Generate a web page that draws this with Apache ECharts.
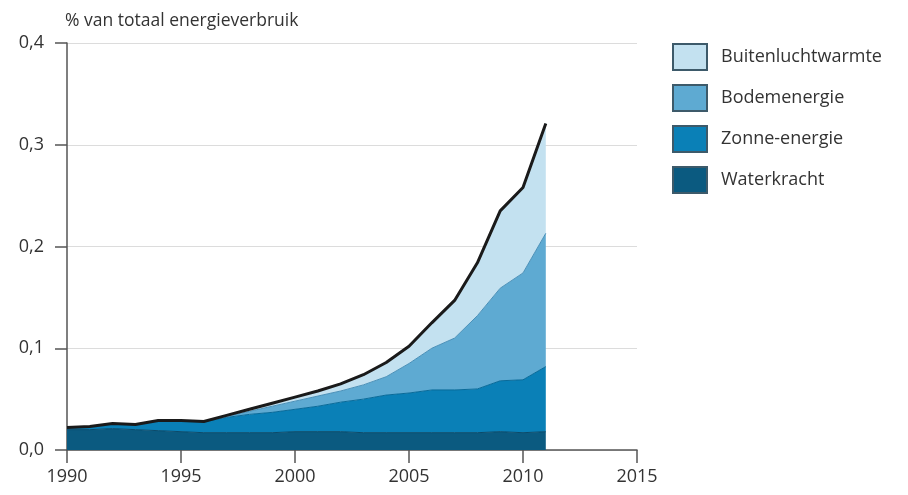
<!DOCTYPE html>
<html>
<head>
    <meta charset="utf-8">
    <title>Hernieuwbare warmte en waterkracht</title>
    <style>
        html,body{ margin:0; padding:0; background:#fff; }
    </style>
</head>
<body>
<script src="https://cdn.jsdelivr.net/npm/echarts@6/dist/echarts.min.js"></script>
<div id="main" style="width: 908px;height:495px;"></div>
<script type="text/javascript">
    // jaren op de as en aandelen (% van totaal energieverbruik), data 1990-2011
    var years = ['1990','1991','1992','1993','1994','1995','1996','1997','1998','1999','2000',
                 '2001','2002','2003','2004','2005','2006','2007','2008','2009','2010','2011',
                 '2012','2013','2014','2015'];
    var waterkracht = [0.020,0.020,0.021,0.020,0.019,0.018,0.017,0.017,0.017,0.017,0.018,
                       0.018,0.018,0.017,0.017,0.017,0.017,0.017,0.017,0.018,0.017,0.018];
    var zonne = [0.002,0.003,0.005,0.005,0.010,0.011,0.011,0.015,0.018,0.020,0.022,
                 0.025,0.029,0.033,0.037,0.039,0.042,0.042,0.043,0.050,0.052,0.064];
    var bodem = [0,0,0,0,0,0,0,0.001,0.003,0.006,0.008,
                 0.010,0.011,0.014,0.018,0.029,0.041,0.051,0.072,0.091,0.105,0.131];
    var buitenlucht = [0,0,0,0,0,0,0,0.001,0.002,0.003,0.004,
                       0.005,0.007,0.010,0.014,0.017,0.025,0.037,0.052,0.076,0.084,0.108];

    var totaal = waterkracht.map(function (v, i) {
        return +(v + zonne[i] + bodem[i] + buitenlucht[i]).toFixed(3);
    });

    var font = '"Open Sans", sans-serif';
    var myChart = echarts.init(document.getElementById('main'));

    function area(name, data, color, edge) {
        return {
            name: name,
            type: 'line',
            stack: 'totaal',
            data: data,
            symbol: 'none',
            animation: false,
            lineStyle: { width: 1, color: edge },
            itemStyle: { color: color, borderColor: '#3d5a6a', borderWidth: 1 },
            areaStyle: { color: color, opacity: 1 }
        };
    }

    myChart.setOption({
        backgroundColor: '#fff',
        grid: { left: 67, right: 271, top: 43, bottom: 45 },
        legend: {
            orient: 'vertical',
            left: 672,
            top: 43,
            padding: 0,
            itemWidth: 34,
            itemHeight: 26,
            itemGap: 13,
            icon: 'rect',
            data: ['Buitenluchtwarmte', 'Bodemenergie', 'Zonne-energie', 'Waterkracht'],
            textStyle: { fontFamily: font, fontSize: 18, color: '#333', padding: [0, 0, 0, 9] }
        },
        xAxis: {
            type: 'category',
            data: years,
            boundaryGap: false,
            axisLine: { show: true, lineStyle: { color: '#555', width: 1.5 } },
            axisTick: { show: true, interval: 4, length: 13, lineStyle: { color: '#555', width: 1.5 } },
            axisLabel: { interval: 4, fontFamily: font, fontSize: 18, color: '#333', margin: 18 },
            splitLine: { show: false }
        },
        yAxis: {
            type: 'value',
            min: 0,
            max: 0.4,
            interval: 0.1,
            name: '% van totaal energieverbruik',
            nameLocation: 'end',
            nameGap: 13,
            nameTextStyle: { fontFamily: font, fontSize: 17.5, color: '#333', align: 'left', padding: [0, 0, 0, -2] },
            axisLine: { show: true, lineStyle: { color: '#555', width: 1.5 } },
            axisTick: { show: true, length: 12, lineStyle: { color: '#555', width: 1.5 } },
            axisLabel: {
                fontFamily: font, fontSize: 18, color: '#333', margin: 23,
                formatter: function (v) { return v.toFixed(1).replace('.', ','); }
            },
            splitLine: { show: true, lineStyle: { color: '#dcdcdc', width: 1 } }
        },
        series: [
            area('Waterkracht', waterkracht, '#0b5a80', '#0a4a6a'),
            area('Zonne-energie', zonne, '#0a80b7', '#086a99'),
            area('Bodemenergie', bodem, '#5eaad2', '#4a90b8'),
            area('Buitenluchtwarmte', buitenlucht, '#c3e1f0', '#a8cde2'),
            {
                name: 'Totaal',
                type: 'line',
                data: totaal,
                symbol: 'none',
                animation: false,
                z: 5,
                lineStyle: { width: 3, color: '#1a1a1a' }
            }
        ]
    });
</script>
</body>
</html>
